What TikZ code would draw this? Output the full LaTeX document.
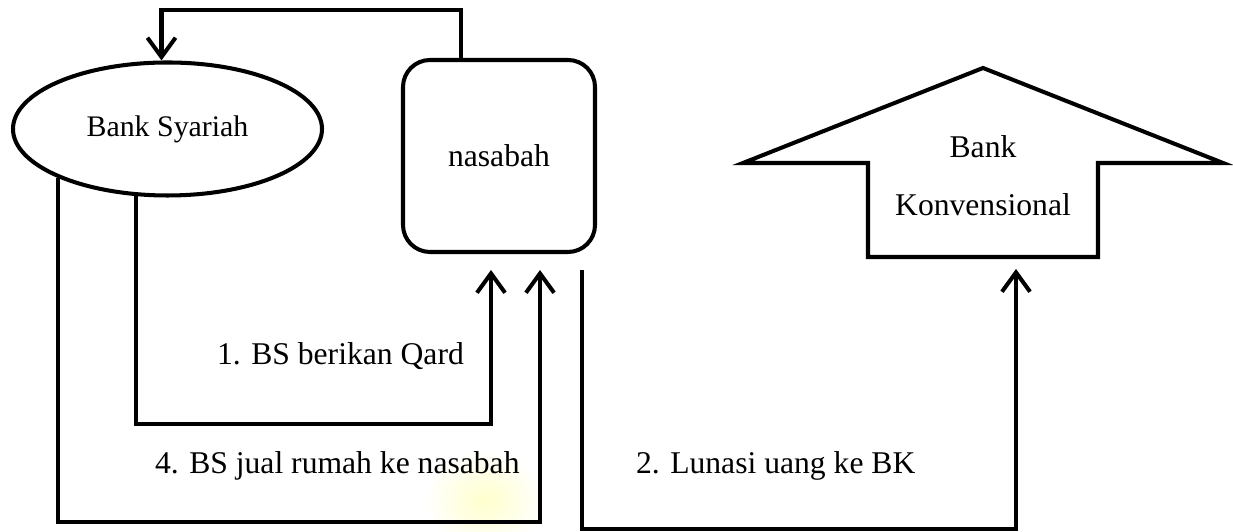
\documentclass[tikz,border=0pt]{standalone}
\usepackage{fontspec}
\setmainfont{Liberation Serif}
\usetikzlibrary{arrows.meta, shapes.geometric, calc}

\begin{document}
\begin{tikzpicture}[
    line width=1.15pt,
    nd/.style={draw, line width=1.15pt, inner sep=2pt, font=\fontsize{9}{11}\selectfont},
    bank/.style={nd, ellipse, minimum width=3.09cm, minimum height=1.33cm, font=\fontsize{8.5}{10}\selectfont},
    client/.style={nd, rounded corners=0.27cm, minimum width=1.92cm, minimum height=1.92cm},
    house/.style={line width=1.15pt, line join=miter},
    arr/.style={-{Straight Barb[length=5.5pt, width=8pt, line width=1.15pt]}, line width=1.15pt},
    elabel/.style={anchor=base west, inner sep=0pt, font=\fontsize{9}{11}\selectfont},
]
\useasboundingbox (0,0) rectangle (12.33,5.32);

% ── faint smudge under the bottom line ──
\shade[inner color=yellow!20, outer color=white] (4.85,0.32) ellipse (0.6 and 0.5);

% ── Parties ──
\node[bank] (BS) at (1.675,4.03) {Bank Syariah};
\node[client] (Nsb) at (4.99,3.76) {nasabah};

% conventional bank: arrow-shaped outline
\draw[house] (8.68,2.75) -- (8.68,3.69) -- (7.43,3.69) -- (9.83,4.64)
    -- (12.23,3.69) -- (10.98,3.69) -- (10.98,2.75) -- cycle;
\coordinate (BKbase) at (9.83,2.75);
\node[font=\fontsize{9}{16.4}\selectfont, align=center, inner sep=0pt] (BK) at (9.83,3.56) {Bank\\Konvensional};

% ── Flows ──
\draw[arr] ([xshift=-0.38cm]Nsb.north) -- ++(0,0.48) -| ([xshift=-0.06cm]BS.north);
\draw[arr] (BS.245) -- ++(0,-2.28) -| ([xshift=-0.08cm,yshift=-0.16cm]Nsb.south);
\draw[arr] (BS.204) -- ++(0,-3.44) -| ([xshift=0.41cm,yshift=-0.16cm]Nsb.south);
\draw[arr] ([xshift=0.83cm,yshift=-0.16cm]Nsb.south) -- ++(0,-2.59) -| ([xshift=0.33cm,yshift=-0.12cm]BKbase);

% ── Step labels ──
\node[elabel] (L1) at (2.15,1.67) {1. BS berikan Qard};
\node[elabel] (L4) at (1.53,0.58) {4. BS jual rumah ke nasabah};
\node[elabel] (L2) at (6.34,0.58) {2. Lunasi uang ke BK};

\end{tikzpicture}
\end{document}
